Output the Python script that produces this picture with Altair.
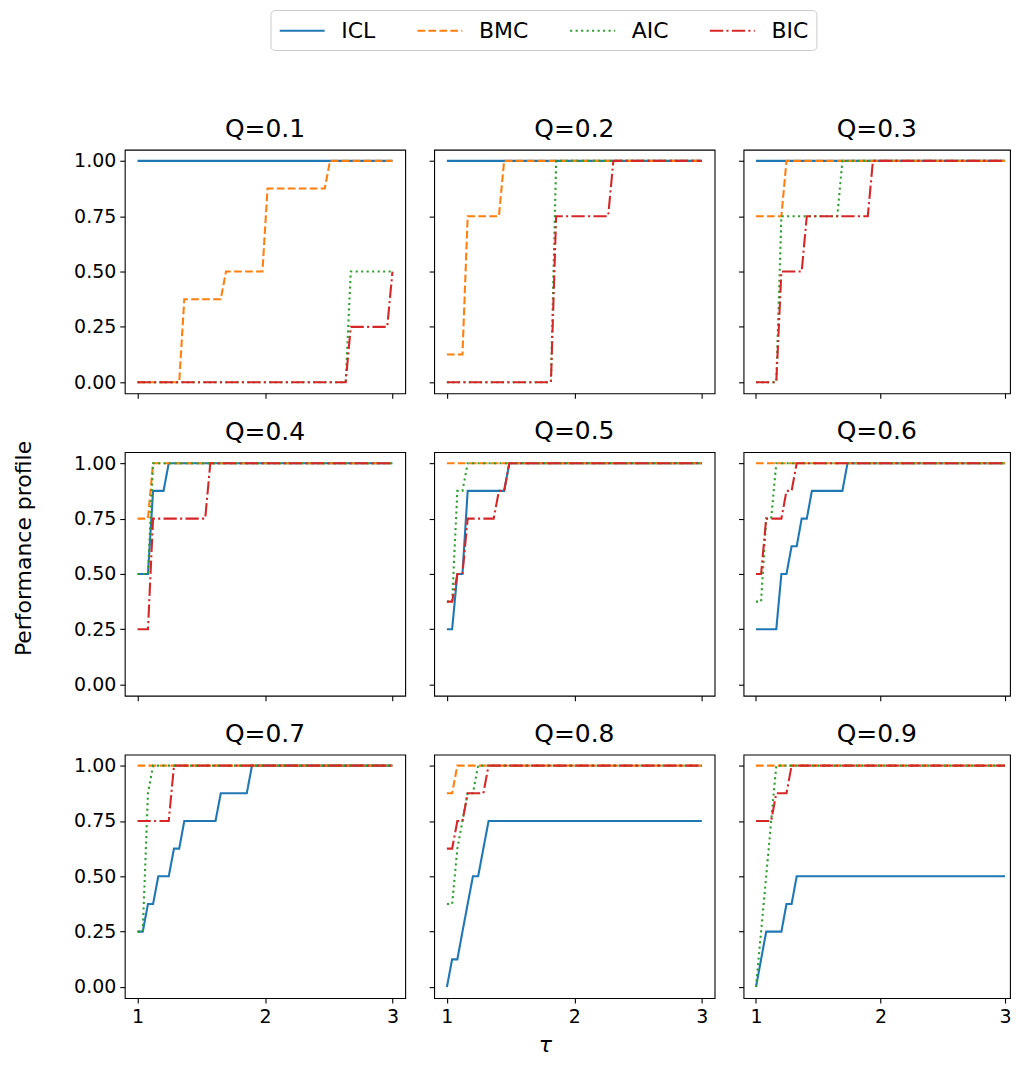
import altair as alt
import pandas as pd

METHODS = ["ICL", "BMC", "AIC", "BIC"]
COLORS = ["#1f77b4", "#ff7f0e", "#2ca02c", "#d62728"]
DASHES = [[1, 0], [7.7, 3.3], [2.1, 3.4], [13.3, 3.3, 2.1, 3.3]]
PANELS = ["Q=0.1", "Q=0.2", "Q=0.3", "Q=0.4", "Q=0.5", "Q=0.6", "Q=0.7", "Q=0.8", "Q=0.9"]
X_TICKS = [1, 2, 3]
Y_TICKS = [0, 0.25, 0.5, 0.75, 1.0]

# (tau, performance profile) breakpoints
q1_icl = [(1, 1), (3, 1)]
q1_bmc = [(1, 0), (1.327, 0), (1.367, 0.375), (1.653, 0.375), (1.694, 0.5), (1.980, 0.5),
          (2.020, 0.875), (2.469, 0.875), (2.510, 1), (3, 1)]
q1_aic = [(1, 0), (2.633, 0), (2.673, 0.5), (3, 0.5)]
q1_bic = [(1, 0), (2.633, 0), (2.673, 0.25), (2.959, 0.25), (3, 0.5)]

q2_icl = [(1, 1), (3, 1)]
q2_bmc = [(1, 0.125), (1.122, 0.125), (1.163, 0.75), (1.408, 0.75), (1.449, 1), (3, 1)]
q2_aic = [(1, 0), (1.816, 0), (1.857, 1), (3, 1)]
q2_bic = [(1, 0), (1.816, 0), (1.857, 0.75), (2.265, 0.75), (2.306, 1), (3, 1)]

q3_icl = [(1, 1), (3, 1)]
q3_bmc = [(1, 0.75), (1.204, 0.75), (1.245, 1), (3, 1)]
q3_aic = [(1, 0), (1.163, 0), (1.204, 0.75), (1.653, 0.75), (1.694, 1), (3, 1)]
q3_bic = [(1, 0), (1.163, 0), (1.204, 0.5), (1.367, 0.5), (1.408, 0.75), (1.898, 0.75),
          (1.939, 1), (3, 1)]

q4_icl = [(1, 0.5), (1.082, 0.5), (1.122, 0.875), (1.204, 0.875), (1.245, 1), (3, 1)]
q4_bmc = [(1, 0.75), (1.082, 0.75), (1.122, 1), (3, 1)]
q4_aic = [(1, 0.5), (1.082, 0.5), (1.122, 1), (3, 1)]
q4_bic = [(1, 0.25), (1.082, 0.25), (1.122, 0.75), (1.531, 0.75), (1.571, 1), (3, 1)]

q5_icl = [(1, 0.25), (1.041, 0.25), (1.082, 0.5), (1.122, 0.5), (1.163, 0.875), (1.449, 0.875),
          (1.490, 1), (3, 1)]
q5_bmc = [(1, 1), (3, 1)]
q5_aic = [(1, 0.375), (1.041, 0.375), (1.082, 0.875), (1.122, 0.875), (1.163, 1), (3, 1)]
q5_bic = [(1, 0.375), (1.041, 0.375), (1.082, 0.5), (1.122, 0.5), (1.163, 0.75), (1.367, 0.75),
          (1.408, 0.875), (1.449, 0.875), (1.490, 1), (3, 1)]

q6_icl = [(1, 0.25), (1.163, 0.25), (1.204, 0.5), (1.245, 0.5), (1.286, 0.625), (1.327, 0.625),
          (1.367, 0.75), (1.408, 0.75), (1.449, 0.875), (1.694, 0.875), (1.735, 1), (3, 1)]
q6_bmc = [(1, 1), (3, 1)]
q6_aic = [(1, 0.375), (1.041, 0.375), (1.082, 0.75), (1.122, 0.75), (1.163, 1), (3, 1)]
q6_bic = [(1, 0.5), (1.041, 0.5), (1.082, 0.75), (1.204, 0.75), (1.245, 0.875), (1.286, 0.875),
          (1.327, 1), (3, 1)]

q7_icl = [(1, 0.25), (1.041, 0.25), (1.082, 0.375), (1.122, 0.375), (1.163, 0.5), (1.245, 0.5),
          (1.286, 0.625), (1.327, 0.625), (1.367, 0.75), (1.612, 0.75), (1.653, 0.875),
          (1.857, 0.875), (1.898, 1), (3, 1)]
q7_bmc = [(1, 1), (3, 1)]
q7_aic = [(1, 0.25), (1.041, 0.25), (1.082, 0.875), (1.122, 1), (3, 1)]
q7_bic = [(1, 0.75), (1.245, 0.75), (1.286, 1), (3, 1)]

q8_icl = [(1, 0), (1.041, 0.125), (1.082, 0.125), (1.122, 0.25), (1.163, 0.375), (1.204, 0.5),
          (1.245, 0.5), (1.286, 0.625), (1.327, 0.75), (3, 0.75)]
q8_bmc = [(1, 0.875), (1.041, 0.875), (1.082, 1), (3, 1)]
q8_aic = [(1, 0.375), (1.041, 0.375), (1.082, 0.625), (1.122, 0.75), (1.163, 0.875), (1.204, 0.875),
          (1.245, 1), (3, 1)]
q8_bic = [(1, 0.625), (1.041, 0.625), (1.082, 0.75), (1.122, 0.75), (1.163, 0.875), (1.286, 0.875),
          (1.327, 1), (3, 1)]

q9_icl = [(1, 0), (1.041, 0.125), (1.082, 0.25), (1.204, 0.25), (1.245, 0.375), (1.286, 0.375),
          (1.327, 0.5), (3, 0.5)]
q9_bmc = [(1, 1), (3, 1)]
q9_aic = [(1, 0), (1.041, 0.25), (1.082, 0.5), (1.122, 0.75), (1.163, 1), (3, 1)]
q9_bic = [(1, 0.75), (1.122, 0.75), (1.163, 0.875), (1.245, 0.875), (1.286, 1), (3, 1)]

SERIES = [
    [q1_icl, q1_bmc, q1_aic, q1_bic],
    [q2_icl, q2_bmc, q2_aic, q2_bic],
    [q3_icl, q3_bmc, q3_aic, q3_bic],
    [q4_icl, q4_bmc, q4_aic, q4_bic],
    [q5_icl, q5_bmc, q5_aic, q5_bic],
    [q6_icl, q6_bmc, q6_aic, q6_bic],
    [q7_icl, q7_bmc, q7_aic, q7_bic],
    [q8_icl, q8_bmc, q8_aic, q8_bic],
    [q9_icl, q9_bmc, q9_aic, q9_bic],
]

FONT = "DejaVu Sans"
color_scale = alt.Scale(domain=METHODS, range=COLORS)
dash_scale = alt.Scale(domain=METHODS, range=DASHES)

panels = []
for i, (name, series) in enumerate(zip(PANELS, SERIES)):
    row, col = divmod(i, 3)
    width = 281 if col < 2 else 267
    xmax = 3.1 if col < 2 else 3.04
    xaxis_kw = dict(values=X_TICKS, labels=(row == 2), format="d", title=None)
    if row == 2 and col == 1:
        xaxis_kw.update(title="τ", titleX=111, titlePadding=9, titleFontStyle="italic")
    yaxis_kw = dict(values=Y_TICKS, labels=(col == 0), format=".2f", title=None)
    if row == 1 and col == 0:
        yaxis_kw.update(title="Performance profile", titleY=96, titlePadding=38)

    layers = []
    for m, pts in zip(METHODS, series):
        df = pd.DataFrame({"tau": [p[0] for p in pts],
                           "value": [p[1] for p in pts],
                           "method": m})
        layers.append(
            alt.Chart(df).mark_line(strokeWidth=2.1, strokeCap="butt", clip=True).encode(
                x=alt.X("tau:Q", scale=alt.Scale(domain=[0.9, xmax], nice=False, zero=False),
                        axis=alt.Axis(**xaxis_kw)),
                y=alt.Y("value:Q", scale=alt.Scale(domain=[-0.05, 1.05], nice=False, zero=False),
                        axis=alt.Axis(**yaxis_kw)),
                color=alt.Color("method:N", scale=color_scale, legend=alt.Legend(title=None)),
                strokeDash=alt.StrokeDash("method:N", scale=dash_scale, legend=alt.Legend(title=None)),
            )
        )
    title_offset = -5 if (row == 1 and col == 0) else 8
    panels.append(
        alt.layer(*layers).properties(
            width=width, height=244, title=alt.TitleParams(name, offset=title_offset)
        )
    )

chart = alt.concat(
    *panels, columns=3, spacing={"row": 59, "column": 29}, bounds="flush"
).properties(
    padding={"left": 4, "top": 0, "right": 0, "bottom": 6}
).configure_view(
    stroke="black", strokeWidth=1.1
).configure_axis(
    domain=False, grid=False, ticks=True, tickColor="black", tickSize=5, tickWidth=1.1,
    labelFont=FONT, labelFontSize=19, labelColor="black", labelPadding=4,
    titleFont=FONT, titleFontSize=22, titleFontWeight="normal", titleColor="black",
).configure_title(
    font=FONT, fontSize=25, fontWeight="normal", color="black", anchor="middle"
).configure_legend(
    orient="none", legendX=146, legendY=-140, direction="horizontal", columns=4,
    symbolType="M-1,0H3", symbolSize=506, symbolStrokeWidth=2.1,
    labelFont=FONT, labelFontSize=22, labelColor="black", labelOffset=38,
    columnPadding=37, padding=8, strokeColor="#cccccc", fillColor="white", cornerRadius=4,
)

chart.save("out.html", embed_options={"renderer": "svg", "actions": False})
